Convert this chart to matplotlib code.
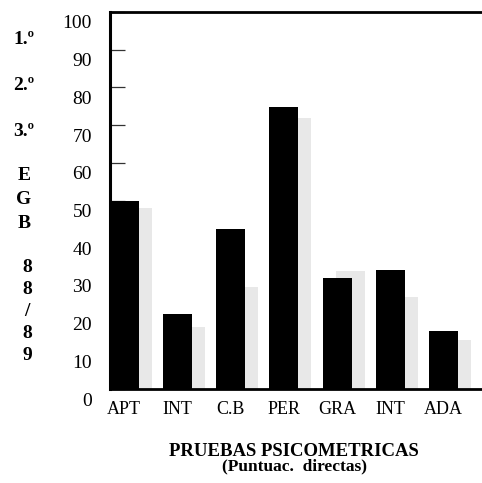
import matplotlib
matplotlib.use("Agg")
import matplotlib.pyplot as plt
import matplotlib.transforms as mtransforms
import numpy as np

categories = ["APT", "INT", "C.B", "PER", "GRA", "INT", "ADA"]
values_main = [50, 19.8, 42.4, 74.9, 29.4, 31.6, 15.4]
values_shadow = [48, 16.5, 27, 72, 31.3, 24.4, 13]
yticks = [0, 10, 20, 30, 40, 50, 60, 70, 80, 90, 100]
side_labels = ["1.º", "2.º", "3.º", "E", "G", "B", "8", "8", "/", "8", "9"]
side_y = [40, 86, 131, 176, 200, 223, 268, 290, 311, 333, 355]  # pixel rows
side_x = [24, 24, 24, 24, 24, 24, 27, 27, 27, 27, 27]
title = "PRUEBAS PSICOMETRICAS"
subtitle = "(Puntuac.  directas)"

W, H = 482, 483
fig = plt.figure(figsize=(W / 100, H / 100), dpi=100)
serif = ["Liberation Serif", "DejaVu Serif"]

ax = fig.add_axes([110 / W, 1 - 389 / H, 1 - 110 / W, (389 - 12) / H])
x = np.arange(len(categories))
bw = 0.545
ax.bar(x + 0.245, values_shadow, width=bw, color="#e8e8e8", zorder=1)
ax.bar(x, values_main, width=bw, color="black", zorder=2)

ax.set_xlim(-0.263, 6.717)
ax.set_ylim(0, 100)
ax.set_axisbelow(True)

ax.spines["right"].set_visible(False)
ax.spines["left"].set_linewidth(2.2)
ax.spines["top"].set_linewidth(2.0)
ax.spines["bottom"].set_linewidth(2.0)

ax.set_yticks(yticks)
ax.set_yticklabels([str(v) for v in yticks], fontfamily=serif, fontsize=14)
ax.tick_params(axis="y", direction="in", length=10.5, width=0.9, color="#333333", pad=13)
offset = mtransforms.ScaledTranslation(0, -10 / 100, fig.dpi_scale_trans)
for lbl in ax.get_yticklabels():
    lbl.set_transform(lbl.get_transform() + offset)

ax.set_xticks(x)
ax.set_xticklabels(categories, fontfamily=serif, fontsize=13)
ax.tick_params(axis="x", length=0, pad=9)

for s, sx, sy in zip(side_labels, side_x, side_y):
    fig.text(sx / W, 1 - sy / H, s, ha="center", va="center",
             fontfamily=serif, fontweight="bold", fontsize=14)

fig.text(294 / W, 1 - 451 / H, title, ha="center", va="center",
         fontfamily=serif, fontweight="bold", fontsize=13.5)
fig.text(294 / W, 1 - 466 / H, subtitle, ha="center", va="center",
         fontfamily=serif, fontweight="bold", fontsize=12.5)

fig.savefig("out.png", dpi=100)
